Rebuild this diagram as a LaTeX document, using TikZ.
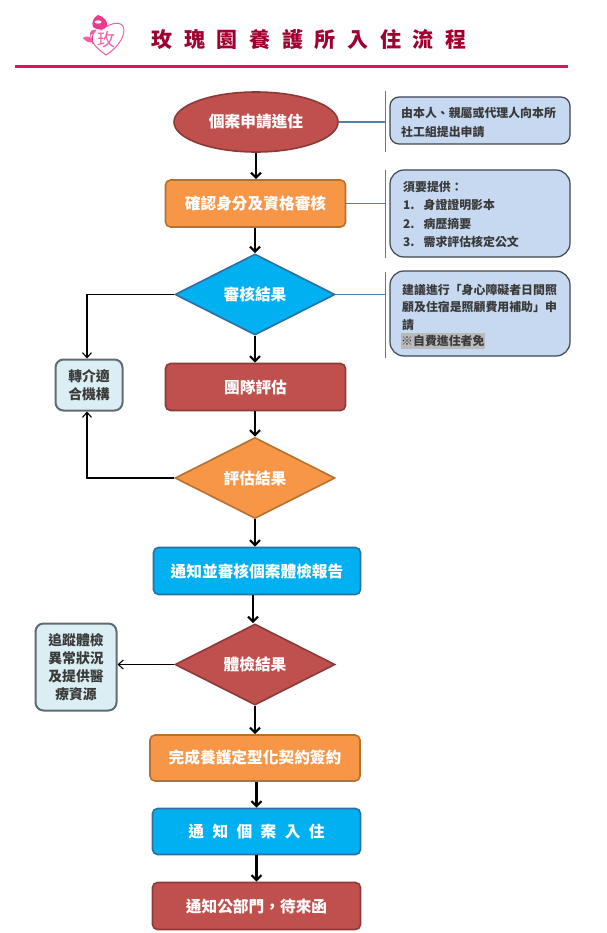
\documentclass[tikz,border=0pt]{standalone}
\usepackage{fontspec}
\setmainfont{Noto Sans CJK TC}
\usetikzlibrary{arrows.meta,shapes.geometric,positioning}
\definecolor{rosered}{HTML}{C0504D}
\definecolor{roseedge}{HTML}{8C3A38}
\definecolor{amber}{HTML}{F79646}
\definecolor{amberedge}{HTML}{B8702F}
\definecolor{sky}{HTML}{00B0F0}
\definecolor{skyedge}{HTML}{2F6EA3}
\definecolor{note}{HTML}{C6D9F1}
\definecolor{noteedge}{HTML}{3F4650}
\definecolor{pale}{HTML}{DBEEF4}
\definecolor{paleedge}{HTML}{5F6C72}
\definecolor{branch}{HTML}{4F81A8}
\definecolor{rule}{HTML}{E3105F}
\definecolor{titlec}{HTML}{A00030}
\definecolor{logoc}{HTML}{EE5FA8}
\definecolor{logod}{HTML}{EC3A8C}
\definecolor{ink}{HTML}{3A3A3A}
\tikzset{
  base/.style={font=\bfseries\fontsize{15.7}{18}\selectfont,text=white,inner sep=0pt,line width=1.6pt,align=center},
  procred/.style={base,draw=roseedge,fill=rosered,rectangle,rounded corners=5pt},
  procamber/.style={base,draw=amberedge,fill=amber,rectangle,rounded corners=5pt},
  procsky/.style={base,draw=skyedge,fill=sky,rectangle,rounded corners=5pt},
  decide/.style={base,diamond,shape aspect=2,minimum width=160pt,minimum height=81pt},
  notebox/.style={rectangle,draw=noteedge,fill=note,line width=1.2pt,rounded corners=9pt,minimum width=180pt,inner sep=0pt},
  palebox/.style={rectangle,draw=paleedge,fill=pale,line width=2pt,rounded corners=8pt,inner sep=0pt,text=ink,align=center,font=\bfseries\fontsize{13.8}{18}\selectfont},
  notetext/.style={inner sep=0pt,anchor=west,text=ink,font=\bfseries\fontsize{11.9}{14}\selectfont},
  flow/.style={-{Straight Barb[length=5pt,width=10pt]},line width=2.2pt,black},
  thinflow/.style={-{Straight Barb[length=5pt,width=9pt]},line width=1.1pt,black},
  tie/.style={branch,line width=1.6pt},
  tiebar/.style={branch,line width=0.9pt}
}
\begin{document}
\begin{tikzpicture}[x=1pt,y=-1pt]
\fill[white] (0,0) rectangle (606,933);
\useasboundingbox (0,0) rectangle (606,933);
% logo
\draw[logoc,line width=1pt] (106,55) .. controls (97,49) and (89,41) .. (91,32) .. controls (93,27) and (97,27) .. (101,30) .. controls (108,25) and (118,20) .. (123,26) .. controls (127,34) and (118,48) .. (106,55) -- cycle;
\fill[white] (93,28) circle (7.5);
\fill[logod] (98,15) .. controls (104,17) and (108,21) .. (107,26) .. controls (105,30) and (97,31) .. (93,27) .. controls (91,22) and (94,17) .. (98,15) -- cycle;
\fill[white] (98,22) ellipse (3.5 and 1.6);
\draw[logod,line width=0.9pt] (96,30) .. controls (92,33) and (92,38) .. (93,44);
\fill[logoc] (83,38) .. controls (87,35) and (91,36) .. (93,42) .. controls (89,43) and (86,42) .. (83,38) -- cycle;
\fill[logoc] (90,33) .. controls (91,30) and (94,29) .. (96,30) .. controls (95,33) and (93,35) .. (90,35) -- cycle;
\node[inner sep=0pt,text=logoc,font=\fontsize{18}{20}\selectfont] (logotext) at (106,40) {玫};
% title
\node[inner sep=0pt,text=titlec,font=\bfseries\fontsize{21}{24}\selectfont] (title) at (309,40) {\spaceskip=11.7pt\relax 玫 瑰 園 養 護 所 入 住 流 程};
\fill[rule] (15,65) rectangle (568,68.5);
% nodes
\node[base,ellipse,draw=roseedge,fill=rosered,minimum width=164pt,minimum height=60pt] (apply) at (256,122) {個案申請進住};
\node[procamber,minimum width=180pt,minimum height=47pt] (check) at (255.5,203.5) {確認身分及資格審核};
\node[decide,draw=skyedge,fill=sky] (review) at (255,294.5) {審核結果};
\node[procred,minimum width=180pt,minimum height=47pt] (team) at (255.5,387) {團隊評估};
\node[decide,draw=amberedge,fill=amber] (assess) at (255,478) {評估結果};
\node[procsky,minimum width=207pt,minimum height=47pt] (notify) at (257,571) {通知並審核個案體檢報告};
\node[decide,draw=roseedge,fill=rosered] (health) at (255,664.5) {體檢結果};
\node[procamber,minimum width=210pt,minimum height=46pt] (contract) at (255,758) {完成養護定型化契約簽約};
\node[procsky,minimum width=208pt,minimum height=46pt] (admit) at (256.5,831.5) {\spaceskip=8.4pt\relax 通 知 個 案 入 住};
\node[procred,minimum width=208pt,minimum height=47pt] (public) at (256.5,906) {通知公部門，待來函};
\node[palebox,minimum width=67pt,minimum height=51pt] (refer) at (89,385) {轉介適\\合機構};
\node[palebox,minimum width=81pt,minimum height=87pt] (follow) at (76,667) {追蹤體檢\\異常狀況\\及提供醫\\療資源};
% note boxes
\node[notebox,minimum height=47pt] (noteA) at (480,120.5) {};
\node[notebox,minimum height=87pt,rounded corners=14pt] (noteB) at (480,213.5) {};
\node[notebox,minimum height=85pt,rounded corners=14pt] (noteC) at (480,313.5) {};
\node[notetext] (a1) at (401,113) {由本人、親屬或代理人向本所};
\node[notetext] (a2) at (401,132) {社工組提出申請};
\node[notetext] (b0) at (403,187) {須要提供：};
\node[notetext] (b1) at (403,205) {1.\hspace{9pt}身證證明影本};
\node[notetext] (b2) at (403,223.5) {2.\hspace{9pt}病歷摘要};
\node[notetext] (b3) at (403,242) {3.\hspace{9pt}需求評估核定公文};
\node[notetext] (c1) at (402,290) {建議進行「身心障礙者日間照};
\node[notetext] (c2) at (402,307.5) {顧及住宿是照顧費用補助」申};
\node[notetext] (c3) at (402,325) {請};
\fill[black!27] (401,332.5) rectangle (485,348.5);
\node[notetext] (c4) at (401,341) {※自費進住者免};
% note brackets
\draw[tiebar] (385,91) -- (385,152);
\draw[tiebar] (385,170) -- (385,258);
\draw[tiebar] (385,272) -- (385,358);
\draw[tie] (apply.east) -- (385,122);
\draw[tie] (check.east) -- (385,203.5);
\draw[tie] (review.east) -- (385,294.5);
% flow
\draw[flow] (apply.south) -- (apply.south |- check.north);
\draw[flow] (review.north |- check.south) -- (review.north);
\draw[flow] (review.south) -- (team.north -| review.south);
\draw[flow] (team.south -| assess.north) -- (assess.north);
\draw[flow] (assess.south) -- (notify.north -| assess.south);
\draw[flow] (notify.south -| 253,0) -- (health.north -| 253,0);
\draw[flow] (health.south) -- (contract.north -| health.south);
\draw[flow] (contract.south -| admit.north) -- (admit.north);
\draw[flow] (admit.south) -- (public.north);
\draw[thinflow] (review.west) -- (87,294.5) -- (refer.north -| 87,0);
\draw[thinflow] (assess.west) -- (87,478) -- (refer.south -| 87,0);
\draw[thinflow] (health.west) -- (follow.east |- health.west);
\end{tikzpicture}
\end{document}
